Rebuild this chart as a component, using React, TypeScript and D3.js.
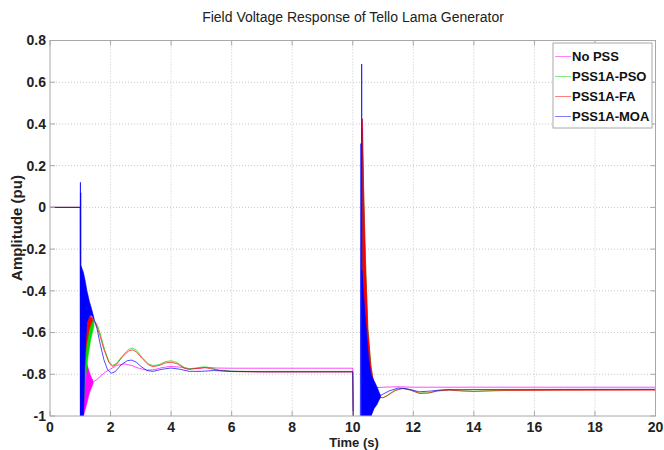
import React from 'react';
import * as d3 from 'd3';

// ---- axes ----
const xTicks = [0, 2, 4, 6, 8, 10, 12, 14, 16, 18, 20];
const yTicks = [-1, -0.8, -0.6, -0.4, -0.2, 0, 0.2, 0.4, 0.6, 0.8];
const yTickLabels = ['-1', '-0.8', '-0.6', '-0.4', '-0.2', '0', '0.2', '0.4', '0.6', '0.8'];

const seriesNames = ['No PSS', 'PSS1A-PSO', 'PSS1A-FA', 'PSS1A-MOA'];
const seriesColors = ['#ff00ff', '#00dd00', '#ff0000', '#0000ff'];

// ---- No PSS ----
const noPssLine1 = [[0, 0], [1.0, 0], [1.005, -1.05]];
const noPssBand1 = [[1.03, -1.05, -0.72], [1.1, -1.0, -0.71], [1.2, -0.95, -0.74], [1.3, -0.89, -0.79], [1.38, -0.86, -0.82], [1.42, -0.845, -0.83]];
const noPssLine2 = [[1.42, -0.838], [1.55, -0.825], [1.7, -0.805], [1.85, -0.787], [2.0, -0.775], [2.2, -0.758], [2.45, -0.75], [2.7, -0.758], [2.95, -0.772], [3.2, -0.78], [3.45, -0.778], [3.7, -0.768], [4.0, -0.762], [4.3, -0.766], [4.6, -0.773], [4.9, -0.772], [5.2, -0.767], [5.5, -0.77], [6.0, -0.771], [10.0, -0.771], [10.02, -1.05]];
const noPssBand2 = [[10.31, -1.05, 0.38], [10.36, -1.05, 0.0], [10.42, -1.05, -0.35], [10.5, -1.0, -0.65], [10.6, -0.95, -0.82], [10.7, -0.9, -0.85], [10.78, -0.87, -0.86]];
const noPssLine3 = [[10.78, -0.864], [11.0, -0.862], [11.5, -0.86], [12.0, -0.862], [13.0, -0.862], [16.0, -0.862], [20.0, -0.862]];

// ---- PSS1A-PSO ----
const psoLine1 = [[0, 0], [1.0, 0], [1.005, -1.05]];
const psoBand1 = [[1.06, -1.05, -0.62], [1.15, -0.85, -0.57], [1.25, -0.72, -0.55], [1.35, -0.63, -0.54], [1.45, -0.57, -0.54]];
const psoLine2 = [[1.45, -0.545], [1.55, -0.56], [1.65, -0.6], [1.8, -0.68], [1.95, -0.74], [2.07, -0.757], [2.2, -0.748], [2.4, -0.71], [2.6, -0.68], [2.72, -0.675], [2.85, -0.684], [3.05, -0.72], [3.25, -0.75], [3.4, -0.758], [3.6, -0.754], [3.8, -0.74], [4.0, -0.735], [4.2, -0.744], [4.45, -0.768], [4.6, -0.774], [4.85, -0.769], [5.1, -0.764], [5.3, -0.769], [5.6, -0.78], [6.0, -0.785], [6.5, -0.786], [10.0, -0.786], [10.02, -1.05]];
const psoBand2 = [[10.32, -1.05, 0.35], [10.37, -1.05, 0.0], [10.43, -1.05, -0.3], [10.5, -1.05, -0.58], [10.6, -1.0, -0.76], [10.7, -0.96, -0.85], [10.8, -0.93, -0.89], [10.9, -0.915, -0.905]];
const psoLine3 = [[10.9, -0.91], [11.0, -0.912], [11.15, -0.9], [11.4, -0.876], [11.65, -0.866], [11.9, -0.874], [12.2, -0.89], [12.5, -0.889], [12.8, -0.879], [13.2, -0.874], [13.6, -0.879], [14.0, -0.881], [15.0, -0.876], [17.0, -0.874], [20.0, -0.873]];

// ---- PSS1A-FA ----
const faLine1 = [[0, 0], [1.0, 0], [1.005, -1.05]];
const faBand1 = [[1.05, -1.05, -0.58], [1.12, -0.8, -0.52], [1.2, -0.66, -0.51], [1.3, -0.58, -0.52], [1.4, -0.545, -0.53]];
const faLine2 = [[1.4, -0.535], [1.5, -0.55], [1.62, -0.6], [1.78, -0.68], [1.95, -0.745], [2.07, -0.762], [2.2, -0.752], [2.4, -0.715], [2.6, -0.688], [2.72, -0.683], [2.85, -0.692], [3.05, -0.725], [3.25, -0.755], [3.4, -0.763], [3.6, -0.758], [3.8, -0.746], [4.0, -0.742], [4.2, -0.75], [4.45, -0.772], [4.6, -0.777], [4.85, -0.772], [5.1, -0.768], [5.3, -0.773], [5.6, -0.782], [6.0, -0.787], [7.0, -0.789], [10.0, -0.789], [10.02, -1.05]];
const faBand2 = [[10.32, -1.05, 0.425], [10.36, -1.05, 0.1], [10.42, -1.05, -0.25], [10.5, -1.05, -0.58], [10.6, -1.0, -0.76], [10.7, -0.96, -0.85], [10.8, -0.93, -0.89], [10.9, -0.915, -0.905]];
const faLine3 = [[10.9, -0.91], [11.0, -0.913], [11.15, -0.902], [11.4, -0.878], [11.65, -0.868], [11.9, -0.876], [12.2, -0.892], [12.5, -0.89], [12.8, -0.88], [13.2, -0.876], [13.6, -0.88], [14.0, -0.882], [15.0, -0.878], [17.0, -0.877], [20.0, -0.876]];

// ---- PSS1A-MOA ----
const moaLine1 = [[0, 0], [1.0, 0], [1.005, 0.12], [1.01, -1.05], [1.015, 0.07], [1.02, -1.05]];
const moaBand1 = [[1.02, -1.05, -0.28], [1.1, -1.05, -0.31], [1.16, -0.7, -0.35], [1.22, -0.55, -0.4], [1.3, -0.52, -0.45], [1.38, -0.52, -0.49], [1.46, -0.54, -0.535]];
const moaLine2 = [[1.46, -0.54], [1.55, -0.58], [1.65, -0.65], [1.78, -0.73], [1.9, -0.778], [2.02, -0.795], [2.15, -0.788], [2.35, -0.755], [2.55, -0.735], [2.7, -0.732], [2.85, -0.742], [3.0, -0.762], [3.2, -0.782], [3.4, -0.786], [3.7, -0.776], [4.0, -0.77], [4.3, -0.776], [4.6, -0.786], [5.0, -0.786], [5.4, -0.782], [6.0, -0.786], [7.0, -0.788], [10.0, -0.788], [10.015, -1.05]];
const moaSpikes = [[10.25, -1.05], [10.27, 0.306], [10.28, -1.05], [10.295, 0.687], [10.31, -1.05]];
const moaBand2 = [[10.3, -1.05, -0.3], [10.4, -1.05, -0.5], [10.52, -1.05, -0.72], [10.6, -1.0, -0.8], [10.7, -0.965, -0.83], [10.8, -0.945, -0.86], [10.88, -0.92, -0.89], [10.92, -0.905, -0.9]];
const moaLine3 = [[10.92, -0.902], [11.0, -0.895], [11.2, -0.88], [11.5, -0.866], [11.8, -0.87], [12.2, -0.884], [12.6, -0.88], [13.0, -0.874], [14.0, -0.873], [20.0, -0.872]];

const series = [
  { lines: [noPssLine1, noPssLine2, noPssLine3], bands: [noPssBand1, noPssBand2] },
  { lines: [psoLine1, psoLine2, psoLine3], bands: [psoBand1, psoBand2] },
  { lines: [faLine1, faLine2, faLine3], bands: [faBand1, faBand2] },
  { lines: [moaLine1, moaLine2, moaSpikes, moaLine3], bands: [moaBand1, moaBand2] },
];

const W = 664;
const H = 450;
const L = 50, R = 655.5, T = 40.5, B = 416;
const FONT = '"Liberation Sans", Arial, sans-serif';

export default function App() {
  const x = d3.scaleLinear().domain([0, 20]).range([L, R]);
  const y = d3.scaleLinear().domain([-1, 0.8]).range([B, T]);
  const line = d3.line<number[]>().x((d) => x(d[0])).y((d) => y(d[1]));
  const area = d3.area<number[]>().x((d) => x(d[0])).y0((d) => y(d[1])).y1((d) => y(d[2]));

  return (
    <svg width={W} height={H} style={{ position: 'absolute', left: 0, top: 0, background: '#fff' }} fontFamily={FONT}>
      <defs>
        <clipPath id="plotClip">
          <rect x={L} y={T} width={R - L} height={B - T} />
        </clipPath>
      </defs>
      <rect x={0} y={0} width={W} height={H} fill="#fff" />
      {/* grid */}
      {xTicks.slice(1, -1).map((t) => (
        <line key={'gx' + t} x1={x(t)} x2={x(t)} y1={T} y2={B} stroke="#c8c8c8" strokeWidth={1} strokeDasharray="1,2" />
      ))}
      {yTicks.slice(1, -1).map((t) => (
        <line key={'gy' + t} x1={L} x2={R} y1={y(t)} y2={y(t)} stroke="#c8c8c8" strokeWidth={1} strokeDasharray="1,2" />
      ))}
      {/* data */}
      <g clipPath="url(#plotClip)">
        {series.map((s, i) => (
          <g key={'s' + i}>
            {s.bands.map((b, j) => (
              <path key={'b' + j} d={area(b) || ''} fill={seriesColors[i]} stroke={seriesColors[i]} strokeWidth={0.6} />
            ))}
            {s.lines.map((l, j) => (
              <path key={'l' + j} d={line(l) || ''} fill="none" stroke={seriesColors[i]} strokeWidth={1} strokeOpacity={0.7} />
            ))}
          </g>
        ))}
      </g>
      {/* box */}
      <rect x={L} y={T} width={R - L} height={B - T} fill="none" stroke="#a8a8a8" strokeWidth={1} />
      {/* ticks */}
      {xTicks.map((t) => (
        <g key={'tx' + t}>
          <line x1={x(t)} x2={x(t)} y1={B} y2={B - 5} stroke="#a8a8a8" />
          <line x1={x(t)} x2={x(t)} y1={T} y2={T + 5} stroke="#a8a8a8" />
          <text x={x(t)} y={432} textAnchor="middle" fontSize={14} fontWeight="bold" fill="#222">{String(t)}</text>
        </g>
      ))}
      {yTicks.map((t, i) => (
        <g key={'ty' + t}>
          <line x1={L} x2={L + 5} y1={y(t)} y2={y(t)} stroke="#a8a8a8" />
          <line x1={R} x2={R - 5} y1={y(t)} y2={y(t)} stroke="#a8a8a8" />
          <text x={46} y={y(t)} dy="0.35em" textAnchor="end" fontSize={14} fontWeight="bold" fill="#222">{yTickLabels[i]}</text>
        </g>
      ))}
      {/* labels */}
      <text x={353} y={22} textAnchor="middle" fontSize={14} fill="#222">Field Voltage Response of Tello Lama Generator</text>
      <text x={354} y={447} textAnchor="middle" fontSize={13} fontWeight="bold" fill="#222">Time (s)</text>
      <text transform={`translate(22,${228}) rotate(-90)`} textAnchor="middle" fontSize={15} fontWeight="bold" fill="#222">Amplitude (pu)</text>
      {/* legend */}
      <rect x={553} y={43} width={99} height={85} fill="#fff" stroke="#a8a8a8" />
      {seriesNames.map((n, i) => (
        <g key={'lg' + i}>
          <line x1={555} x2={571} y1={56.5 + i * 20} y2={56.5 + i * 20} stroke={seriesColors[i]} strokeOpacity={0.5} strokeWidth={1} />
          <text x={572} y={56.5 + i * 20} dy="0.35em" fontSize={13} fontWeight="bold" fill="#111">{n}</text>
        </g>
      ))}
    </svg>
  );
}
